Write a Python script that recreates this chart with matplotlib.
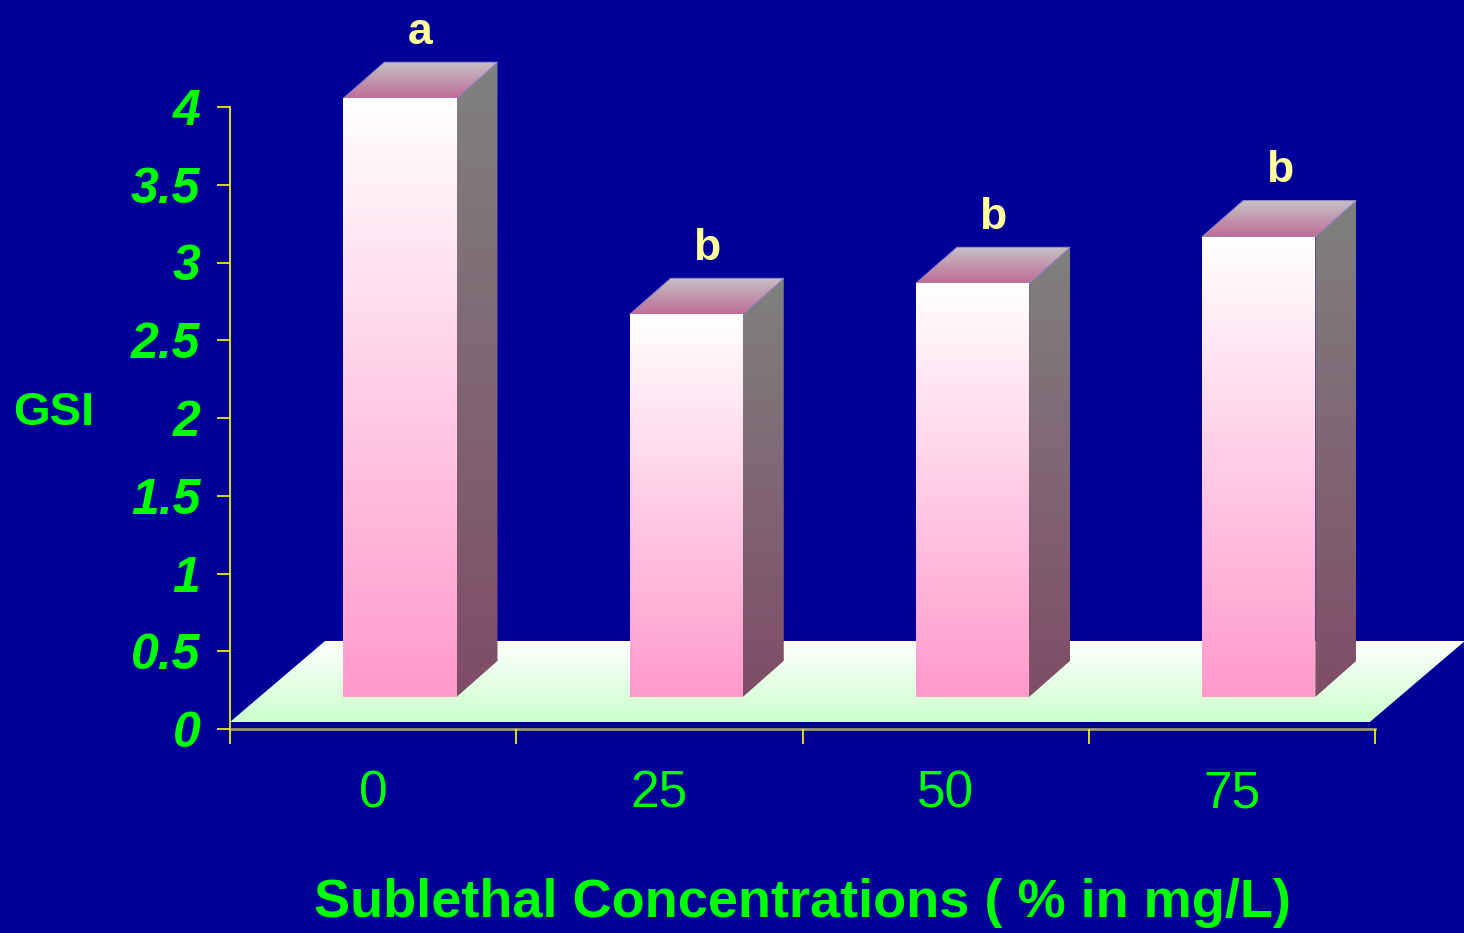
import numpy as np
import matplotlib.pyplot as plt
from matplotlib.patches import Polygon
from matplotlib.colors import to_rgb

categories = ['0', '25', '50', '75']
gsi_values = [3.85, 2.46, 2.66, 2.96]
letters = ['a', 'b', 'b', 'b']
yticks = [0, 0.5, 1, 1.5, 2, 2.5, 3, 3.5, 4]

bg = '#000099'
green = '#00FF00'

# geometry of the fake 3D scene (data units)
base = 0.206          # front bottom of the bars above the axis
bar_w = 0.395
shift = 0.094         # front face offset from category centre
ddx, ddy = 0.143, 0.232    # bar depth
floor_front, floor_back = 0.045, 0.566
floor_dx = 0.332
floor_right = 3.482


def gradient_poly(ax, verts, c_top, c_bot, z):
    verts = np.array(verts)
    patch = Polygon(verts, closed=True, facecolor='none', edgecolor='none', zorder=z)
    ax.add_patch(patch)
    patch.set_clip_on(False)
    t = np.linspace(0, 1, 256)[:, None]
    img = (1 - t) * np.array(to_rgb(c_top)) + t * np.array(to_rgb(c_bot))
    img = img[:, None, :]
    ext = (verts[:, 0].min(), verts[:, 0].max(), verts[:, 1].min(), verts[:, 1].max())
    im = ax.imshow(img, extent=ext, aspect='auto', origin='upper', zorder=z,
                   interpolation='bilinear')
    im.set_clip_path(patch)
    im.set_clip_box(ax.figure.bbox)
    return im


fig = plt.figure(figsize=(14.64, 9.33), dpi=100, facecolor=bg)
ax = fig.add_axes([230 / 1464, (933 - 729) / 933, 1145 / 1464, 622 / 933])
ax.set_facecolor(bg)

# floor
gradient_poly(ax, [(-0.5, floor_front), (floor_right, floor_front),
                   (floor_right + floor_dx, floor_back), (-0.5 + floor_dx, floor_back)],
              '#FFFFFF', '#CCFFCC', 1)

# bars
for i, v in enumerate(gsi_values):
    x0 = i + shift - bar_w / 2
    x1 = i + shift + bar_w / 2
    top = base + v
    # side
    gradient_poly(ax, [(x1, base), (x1 + ddx, base + ddy), (x1 + ddx, top + ddy), (x1, top)],
                  '#808080', '#7F4C66', 3)
    # top
    gradient_poly(ax, [(x0, top), (x1, top), (x1 + ddx, top + ddy), (x0 + ddx, top + ddy)],
                  '#C4C4C4', '#C06C98', 3)
    ax.add_patch(Polygon([(x0, top), (x1, top), (x1 + ddx, top + ddy), (x0 + ddx, top + ddy)],
                         closed=True, facecolor='none', edgecolor='#9A88C8', lw=0.7,
                         zorder=4, clip_on=False))
    # front
    gradient_poly(ax, [(x0, base), (x1, base), (x1, top), (x0, top)],
                  '#FFFFFF', '#FF99CC', 4)
    ax.text(i + shift + ddx / 2, top + ddy + 0.12, letters[i], color='#FFFF99',
            fontsize=32, fontweight='bold', family='Liberation Sans',
            ha='center', va='baseline', zorder=6)

ax.set_xlim(-0.5, 3.5)
ax.set_ylim(0, 4)

for s in ['top', 'right']:
    ax.spines[s].set_visible(False)
ax.spines['left'].set_color('#FFFF00')
ax.spines['left'].set_linewidth(1.2)
ax.spines['bottom'].set_color('#999966')
ax.spines['bottom'].set_linewidth(2)
ax.spines['left'].set_zorder(0.5)
ax.spines['bottom'].set_zorder(0.5)

ax.set_yticks(yticks)
ax.set_yticklabels([f'{t:g}' for t in yticks])
ax.tick_params(axis='y', colors='#FFFF00', length=9.4, width=1.2, direction='out', pad=12)
for lab in ax.get_yticklabels():
    lab.set_color(green)
    lab.set_fontsize(36)
    lab.set_fontweight('bold')
    lab.set_fontstyle('italic')
    lab.set_family('Liberation Sans')

ax.set_xticks(np.arange(-0.5, 4, 1))
ax.set_xticklabels([])
ax.tick_params(axis='x', which='major', colors='#FFFF00', length=11, width=1.2, direction='out')
ax.set_xticks(range(len(categories)), minor=True)
ax.set_xticklabels(categories, minor=True)
ax.tick_params(axis='x', which='minor', length=0, pad=29, labelcolor=green, labelsize=37)
for lab in ax.get_xticklabels(minor=True):
    lab.set_family('Liberation Sans')

fig.text(13 / 1464, 1 - 413 / 933, 'GSI', color=green, fontsize=34, fontweight='bold',
         family='Liberation Sans', ha='left', va='center')
fig.text(803 / 1464, 1 - 903 / 933, 'Sublethal Concentrations ( % in mg/L)', color=green,
         fontsize=39, fontweight='bold', family='Liberation Sans',
         ha='center', va='center')

fig.savefig('out.png', dpi=100, facecolor=bg)
